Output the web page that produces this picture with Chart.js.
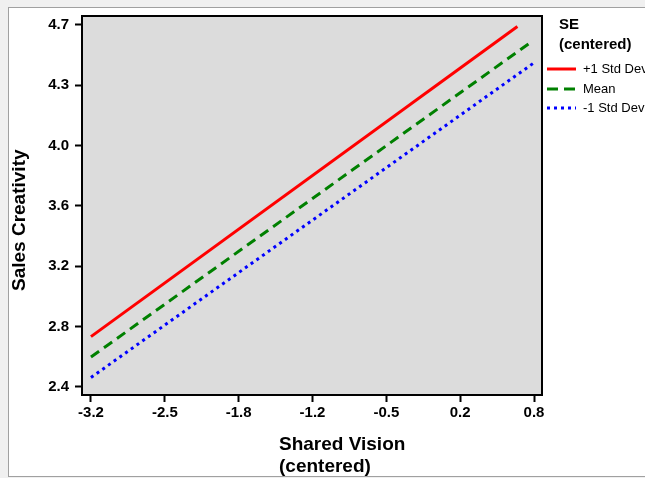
<!DOCTYPE html>
<html>
<head>
<meta charset="utf-8">
<script src="https://cdn.jsdelivr.net/npm/chart.js@4"></script>
<style>
  html, body { margin: 0; padding: 0; background: #f0f0f0; }
  #wrap { position: relative; width: 645px; height: 478px; }
</style>
</head>
<body>
<div id="wrap"><canvas id="slopeChart" width="645" height="478"></canvas></div>
<script>
// series
const seriesNames = ["+1 Std Dev", "Mean", "-1 Std Dev"];
const highX = [-3.18, 0.67];
const highY = [2.74, 4.71];
const meanX = [-3.18, 0.81];
const meanY = [2.61, 4.62];
const lowX = [-3.18, 0.82];
const lowY = [2.48, 4.48];

// ticks (evenly spaced, shown rounded to one decimal)
const xTickValues = [-3.18, -2.513, -1.847, -1.18, -0.513, 0.153, 0.82];
const xTickLabels = ["-3.2", "-2.5", "-1.8", "-1.2", "-0.5", "0.2", "0.8"];
const yTickValues = [2.42, 2.803, 3.187, 3.57, 3.953, 4.337, 4.72];
const yTickLabels = ["2.4", "2.8", "3.2", "3.6", "4.0", "4.3", "4.7"];

const colors = ["rgb(255, 0, 0)", "rgb(0, 128, 0)", "rgb(0, 0, 255)"];
const dashes = [[], [10, 6], [3, 4]];

function pts(xs, ys) {
  return xs.map((x, i) => ({ x: x, y: ys[i] }));
}

const data = {
  datasets: [
    { label: seriesNames[0], data: pts(highX, highY) },
    { label: seriesNames[1], data: pts(meanX, meanY) },
    { label: seriesNames[2], data: pts(lowX, lowY) },
  ].map((d, i) => Object.assign(d, {
    showLine: true,
    borderColor: colors[i],
    backgroundColor: colors[i],
    borderWidth: 3,
    borderDash: dashes[i],
    pointRadius: 0,
  })),
};

const FONT = "'Liberation Sans', Arial, sans-serif";

// frame, grey plot area, axis titles and legend
const decor = {
  id: "decor",
  beforeDraw(chart) {
    const ctx = chart.ctx;
    const a = chart.chartArea;
    ctx.save();
    ctx.fillStyle = "#f0f0f0";
    ctx.fillRect(0, 0, chart.width, chart.height);
    ctx.fillStyle = "#ffffff";
    ctx.fillRect(9, 8, chart.width, 468);
    ctx.strokeStyle = "#a0a0a0";
    ctx.lineWidth = 1;
    ctx.strokeRect(8.5, 7.5, chart.width, 469);
    ctx.fillStyle = "#dcdcdc";
    ctx.fillRect(a.left, a.top, a.right - a.left, a.bottom - a.top);
    ctx.restore();
  },
  afterDraw(chart) {
    const ctx = chart.ctx;
    const a = chart.chartArea;
    ctx.save();
    ctx.strokeStyle = "#000";
    ctx.lineWidth = 2;
    ctx.strokeRect(a.left, a.top, a.right - a.left, a.bottom - a.top);

    // axis titles
    ctx.fillStyle = "#000";
    ctx.font = "bold 19px " + FONT;
    ctx.textBaseline = "middle";
    ctx.textAlign = "left";
    ctx.fillText("Shared Vision", 279, 445);
    ctx.fillText("(centered)", 279, 467);
    ctx.save();
    ctx.translate(20, 291);
    ctx.rotate(-Math.PI / 2);
    ctx.fillText("Sales Creativity", 0, 0);
    ctx.restore();

    // legend
    ctx.font = "bold 15px " + FONT;
    ctx.fillText("SE", 559, 25);
    ctx.fillText("(centered)", 559, 45);
    ctx.font = "13px " + FONT;
    const rowY = [69, 89, 108];
    seriesNames.forEach((name, i) => {
      ctx.strokeStyle = colors[i];
      ctx.lineWidth = 3;
      ctx.setLineDash(i === 1 ? [11, 6] : dashes[i]);
      ctx.beginPath();
      ctx.moveTo(547, rowY[i]);
      ctx.lineTo(576, rowY[i]);
      ctx.stroke();
      ctx.setLineDash([]);
      ctx.fillStyle = "#000";
      ctx.fillText(name, 583, rowY[i]);
    });
    ctx.restore();
  },
};

const options = {
  responsive: false,
  animation: false,
  layout: { padding: { top: 16, right: 103, left: 0, bottom: 0 } },
  plugins: {
    legend: { display: false },
    tooltip: { enabled: false },
  },
  scales: {
    x: {
      type: "linear",
      min: -3.261,
      max: 0.892,
      afterFit: (s) => { s.height = 83; },
      afterBuildTicks: (s) => { s.ticks = xTickValues.map((v) => ({ value: v })); },
      ticks: {
        callback: (v, i) => xTickLabels[i],
        color: "#000",
        font: { family: FONT, size: 15, weight: "bold" },
        padding: 2,
        maxRotation: 0,
        autoSkip: false,
      },
      grid: { drawOnChartArea: false, tickLength: 7, tickWidth: 2, tickColor: "#000" },
      border: { display: true, color: "#000", width: 2 },
    },
    y: {
      type: "linear",
      min: 2.369,
      max: 4.777,
      afterFit: (s) => { s.width = 82; },
      afterBuildTicks: (s) => { s.ticks = yTickValues.map((v) => ({ value: v })); },
      ticks: {
        callback: (v, i) => yTickLabels[i],
        color: "#000",
        font: { family: FONT, size: 15, weight: "bold" },
        padding: 6,
        autoSkip: false,
      },
      grid: { drawOnChartArea: false, tickLength: 7, tickWidth: 2, tickColor: "#000" },
      border: { display: true, color: "#000", width: 2 },
    },
  },
};

new Chart(document.getElementById("slopeChart"), {
  type: "scatter",
  data: data,
  options: options,
  plugins: [decor],
});
</script>
</body>
</html>
